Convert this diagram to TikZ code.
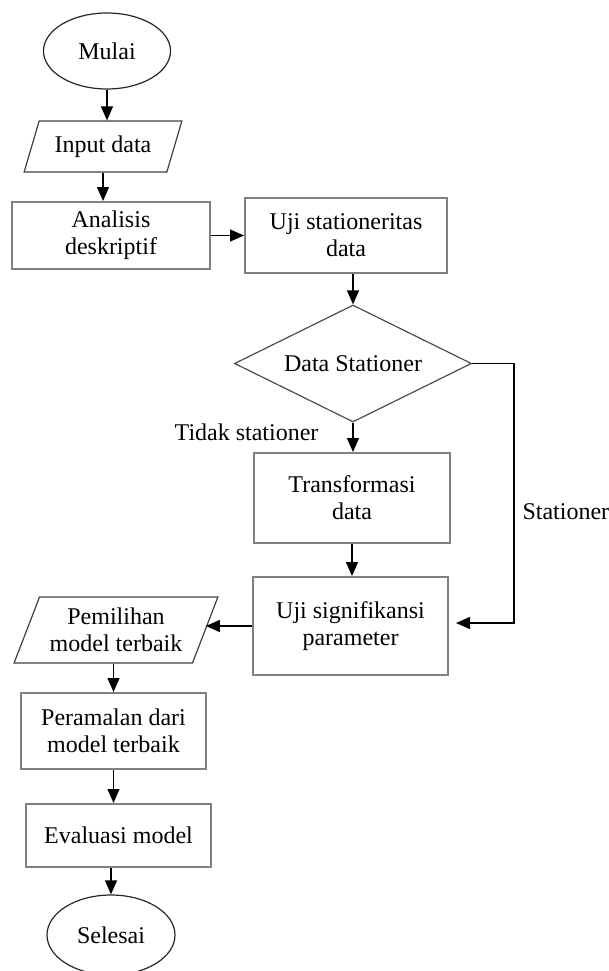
\documentclass[tikz,border=0pt]{standalone}
\usepackage{fontspec}
\setmainfont{Liberation Serif}
\usetikzlibrary{shapes.geometric,arrows.meta}
\begin{document}
\begin{tikzpicture}[x=1pt,y=-1pt,
    font=\fontsize{24}{27}\selectfont,
    proc/.style={draw=black!50, line width=2pt, rectangle, align=center, inner sep=2pt},
    term/.style={draw=black!85, line width=1.2pt, ellipse, inner sep=0pt},
    io/.style={draw=black!75, line width=1.2pt, trapezium, trapezium left angle=64,
        trapezium right angle=116, trapezium stretches=true, align=center, inner sep=1pt},
    arr/.style={-{Triangle[length=14pt,width=12pt]}, line width=1.3pt}]
    \useasboundingbox (0,0) rectangle (609,971);
    % ARIMA flowchart
    \node[term, minimum width=127pt, minimum height=76pt] (mulai) at (107,51) {Mulai};
    \node[io, minimum width=158pt, minimum height=51pt] (input) at (103,146.5) {Input data};
    \node[proc, minimum width=198pt, minimum height=67pt] (analisis) at (111,235.5) {Analisis\\deskriptif};
    \node[proc, minimum width=202pt, minimum height=75pt] (uji) at (346,235.5) {Uji stationeritas\\data};
    \node[draw=black!70, line width=1.2pt, diamond, shape aspect=2, inner sep=0pt,
        minimum width=237pt, minimum height=117pt] (dec) at (353,363.5) {Data Stationer};
    \node[proc, minimum width=196pt, minimum height=90pt] (trans) at (352,498) {Transformasi\\data};
    \node[proc, minimum width=195pt, minimum height=98pt] (ujisig) at (350.5,626) {Uji signifikansi\\parameter};
    \node[io, minimum width=204pt, minimum height=66pt] (pilih) at (116,630) {Pemilihan\\model terbaik};
    \node[proc, minimum width=185pt, minimum height=76pt] (ramal) at (113.5,731) {Peramalan dari\\model terbaik};
    \node[proc, minimum width=185pt, minimum height=63pt] (evaluasi) at (118.5,835.5) {Evaluasi model};
    \node[term, minimum width=128pt, minimum height=80pt] (selesai) at (111,935) {Selesai};

    \node[anchor=east] (tidak) at (322,432) {Tidak stationer};
    \node[anchor=west] (stat) at (519,512) {Stationer};
    \coordinate (sbend) at (514,623);

    \foreach \a/\b in {mulai/input, input/analisis, dec/trans, trans/ujisig} {
        \draw[arr] (\a.south) -- (\a.south |- \b.north);
    }
    \draw[arr] (analisis.east) -- (uji.west |- analisis.east);
    \draw[arr] (uji.south -| dec.north) -- (dec.north);
    \draw[arr] (dec.east) -| (sbend) -- ([xshift=7pt]ujisig.east |- sbend);
    \draw[arr] (ujisig.west) -- (ujisig.west -| pilih.east);
    \draw[arr] (ramal.north |- pilih.south) -- (ramal.north);
    \draw[arr] (ramal.south) -- (ramal.south |- evaluasi.north);
    \draw[arr] (selesai.north |- evaluasi.south) -- (selesai.north);
\end{tikzpicture}
\end{document}
